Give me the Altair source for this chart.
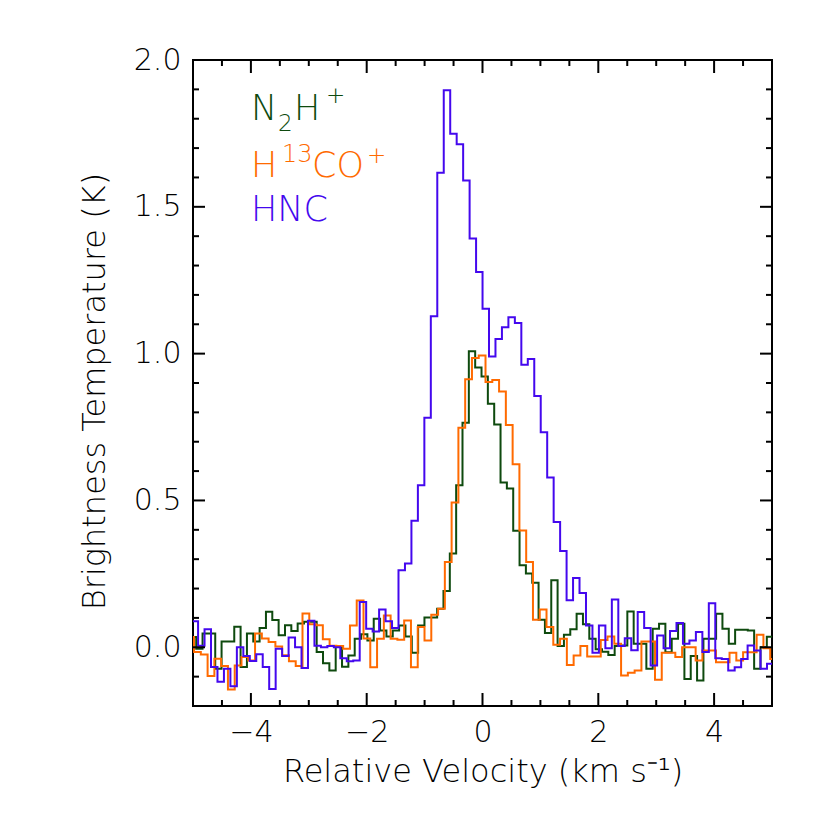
import altair as alt
import pandas as pd

# ---- spectra (channel values) ----
# N2H+ : first channel left edge and channel width (km/s)
n2hp_v0, n2hp_dv = -5.054, 0.1095
n2hp = [0.035, -0.005, 0.047, 0.047, -0.073, 0.02, 0.02, 0.07, -0.067, 0.047,
        0.02, 0.066, 0.121, 0.093, 0.041, 0.075, 0.055, 0.081, 0.087, 0.087,
        -0.016, -0.054, -0.079, 0.004, -0.066, -0.028, 0.029, 0.044, 0.023, 0.097,
        0.057, 0.037, 0.057, 0.074, 0.037, -0.019, 0.074, 0.101, 0.101, 0.131,
        0.192, 0.319, 0.552, 0.765, 1.008, 0.953, 0.922, 0.829, 0.759, 0.561,
        0.541, 0.397, 0.279, 0.251, 0.220, 0.094, 0.049, 0.228, 0.004, 0.043,
        0.061, 0.114, 0.078, 0.029, -0.007, -0.015, -0.026, 0.004, 0.006, 0.122,
        0.012, 0.012, -0.073, 0.063, 0.080, -0.017, 0.029, 0.080, -0.108, -0.030,
        -0.113, 0.029, 0.029, 0.114, 0.063, 0.012, 0.060, 0.060, 0.057, -0.073,
        0.000, 0.036]

# HNC
hnc_v0, hnc_dv = -5.024, 0.11166
hnc = [0.089, 0.005, 0.061, -0.067, -0.117, -0.073, -0.133, 0.000, -0.030, -0.047,
       -0.024, -0.067, -0.142, -0.005, -0.030, 0.033, 0.000, -0.071, 0.090, 0.005,
       0.000, 0.004, 0.000, -0.037, -0.048, -0.045, 0.154, 0.063, 0.054, 0.129,
       0.089, 0.066, 0.262, 0.285, 0.431, 0.552, 0.782, 1.127, 1.616, 1.897,
       1.749, 1.713, 1.590, 1.392, 1.278, 1.153, 0.990, 1.050, 1.090, 1.124,
       1.104, 0.962, 0.982, 0.856, 0.732, 0.578, 0.427, 0.328, 0.160, 0.236,
       0.185, 0.074, -0.019, 0.074, -0.003, 0.163, 0.004, 0.031, -0.010, 0.120,
       0.066, -0.062, 0.040, -0.003, 0.055, 0.083, 0.012, 0.023, 0.052, -0.016,
       0.150, -0.037, -0.040, -0.079, -0.068, -0.040, 0.006, -0.011, -0.073, -0.056]

# H13CO+
h13cop_v0, h13cop_dv = -5.099, 0.11707
h13cop = [0.035, -0.016, -0.025, -0.098, -0.039, -0.064, -0.144, -0.062, -0.033, -0.045,
          0.047, 0.030, 0.018, 0.003, -0.027, -0.048, -0.064, 0.115, 0.078, 0.075,
          0.027, 0.005, 0.004, -0.005, 0.074, 0.159, 0.030, -0.068, 0.029, 0.108,
          0.029, 0.026, 0.091, -0.068, 0.069, 0.023, 0.111, 0.131, 0.290, 0.493,
          0.748, 0.913, 0.985, 0.994, 0.903, 0.910, 0.871, 0.757, 0.623, 0.398,
          0.290, 0.094, 0.129, 0.069, 0.009, 0.029, -0.060, -0.028, 0.004, -0.031,
          -0.031, 0.025, 0.037, 0.012, -0.096, -0.087, -0.079, 0.020, 0.020, -0.111,
          -0.019, -0.019, -0.033, 0.000, 0.000, -0.045, -0.011, -0.011, -0.051, -0.051,
          -0.019, -0.045, -0.017, -0.017, 0.043, -0.003, -0.040]

colors = {"N2H+": "#0e4a0e", "H13CO+": "#ff6a00", "HNC": "#4408ee"}

# legend label pieces: (text, size, dx, baseline, species)
legend_pieces = [
    ("N", 35, 58, 60, "N2H+"), ("2", 23, 85, 71, "N2H+"),
    ("H", 35, 101, 60, "N2H+"), ("+", 23, 133, 43, "N2H+"),
    ("H", 35, 58, 117, "H13CO+"), ("13", 24, 89, 102, "H13CO+"),
    ("CO", 35, 119, 117, "H13CO+"), ("+", 23, 174, 103, "H13CO+"),
    ("HNC", 35, 58, 161, "HNC"),
]

x_major = [-4, -2, 0, 2, 4]
x_minor = [-4.5, -3.5, -3, -2.5, -1.5, -1, -0.5, 0.5, 1, 1.5, 2.5, 3, 3.5, 4.5]
y_major = [0.0, 0.5, 1.0, 1.5]
y_minor = [-0.1, 0.1, 0.2, 0.3, 0.4, 0.6, 0.7, 0.8, 0.9, 1.1, 1.2, 1.3, 1.4,
           1.6, 1.7, 1.8, 1.9]


def spectrum(v0, dv, vals):
    rows = [{"v": v0 + i * dv, "T": t} for i, t in enumerate(vals)]
    rows.append({"v": v0 + len(vals) * dv, "T": vals[-1]})
    return pd.DataFrame(rows)


W, H = 579, 646
FONT = "DejaVu Sans"
FW = 200

xs = alt.Scale(domain=[-5, 5], nice=False, zero=False)
ys = alt.Scale(domain=[-0.2, 2.0], nice=False, zero=False)
x_axis = alt.Axis(values=x_major, ticks=False, domain=False, grid=False,
                  labelFontSize=30, labelPadding=11, labelFont=FONT,
                  labelFontWeight=FW, labelColor="black",
                  title="Relative Velocity (km s⁻¹)", titleFontSize=32,
                  titleFont=FONT, titleFontWeight=FW, titleColor="black",
                  titlePadding=9)
y_axis = alt.Axis(values=[0, 0.5, 1.0, 1.5, 2.0], format=".1f", ticks=False,
                  domain=False, grid=False, labelFontSize=30, labelPadding=12,
                  labelFont=FONT, labelFontWeight=FW, labelColor="black",
                  title="Brightness Temperature (K)", titleFontSize=32,
                  titleFont=FONT, titleFontWeight=FW, titleColor="black",
                  titlePadding=22, titleY=H / 2 + 8)

layers = []
for (v0, dv, vals), key in zip([(n2hp_v0, n2hp_dv, n2hp),
                                (h13cop_v0, h13cop_dv, h13cop),
                                (hnc_v0, hnc_dv, hnc)],
                               ["N2H+", "H13CO+", "HNC"]):
    layers.append(
        alt.Chart(spectrum(v0, dv, vals)).mark_line(
            interpolate="step-after", strokeWidth=2, color=colors[key], clip=True
        ).encode(x=alt.X("v:Q", scale=xs, axis=x_axis),
                 y=alt.Y("T:Q", scale=ys, axis=y_axis))
    )


# inward ticks on all four sides
def xticks(vals, length):
    df = pd.DataFrame({"v": vals})
    base = alt.Chart(df).mark_rule(color="black", strokeWidth=2)
    bot = base.encode(x=alt.X("v:Q", scale=xs, axis=x_axis),
                      y=alt.value(H), y2=alt.value(H - length))
    top = base.encode(x=alt.X("v:Q", scale=xs, axis=x_axis),
                      y=alt.value(0), y2=alt.value(length))
    return [bot, top]


def yticks(vals, length):
    df = pd.DataFrame({"T": vals})
    base = alt.Chart(df).mark_rule(color="black", strokeWidth=2)
    left = base.encode(y=alt.Y("T:Q", scale=ys, axis=y_axis),
                       x=alt.value(0), x2=alt.value(length))
    right = base.encode(y=alt.Y("T:Q", scale=ys, axis=y_axis),
                        x=alt.value(W), x2=alt.value(W - length))
    return [left, right]


layers += xticks(x_major, 13) + xticks(x_minor, 6)
layers += yticks(y_major, 12) + yticks(y_minor, 6)

# legend labels
for txt, size, dx, by, key in legend_pieces:
    layers.append(
        alt.Chart(pd.DataFrame({"label": [txt]})).mark_text(
            align="left", baseline="alphabetic", fontSize=size, font=FONT,
            fontWeight=FW, color=colors[key]
        ).encode(x=alt.value(dx), y=alt.value(by), text="label:N")
    )

chart = alt.layer(*layers).properties(
    width=W, height=H,
    autosize=alt.AutoSizeParams(type="none"),
    padding={"left": 185, "top": 52, "right": 50, "bottom": 100},
).configure_view(stroke="black", strokeWidth=2)

chart.save("out.html", embed_options={"renderer": "svg", "actions": False})
